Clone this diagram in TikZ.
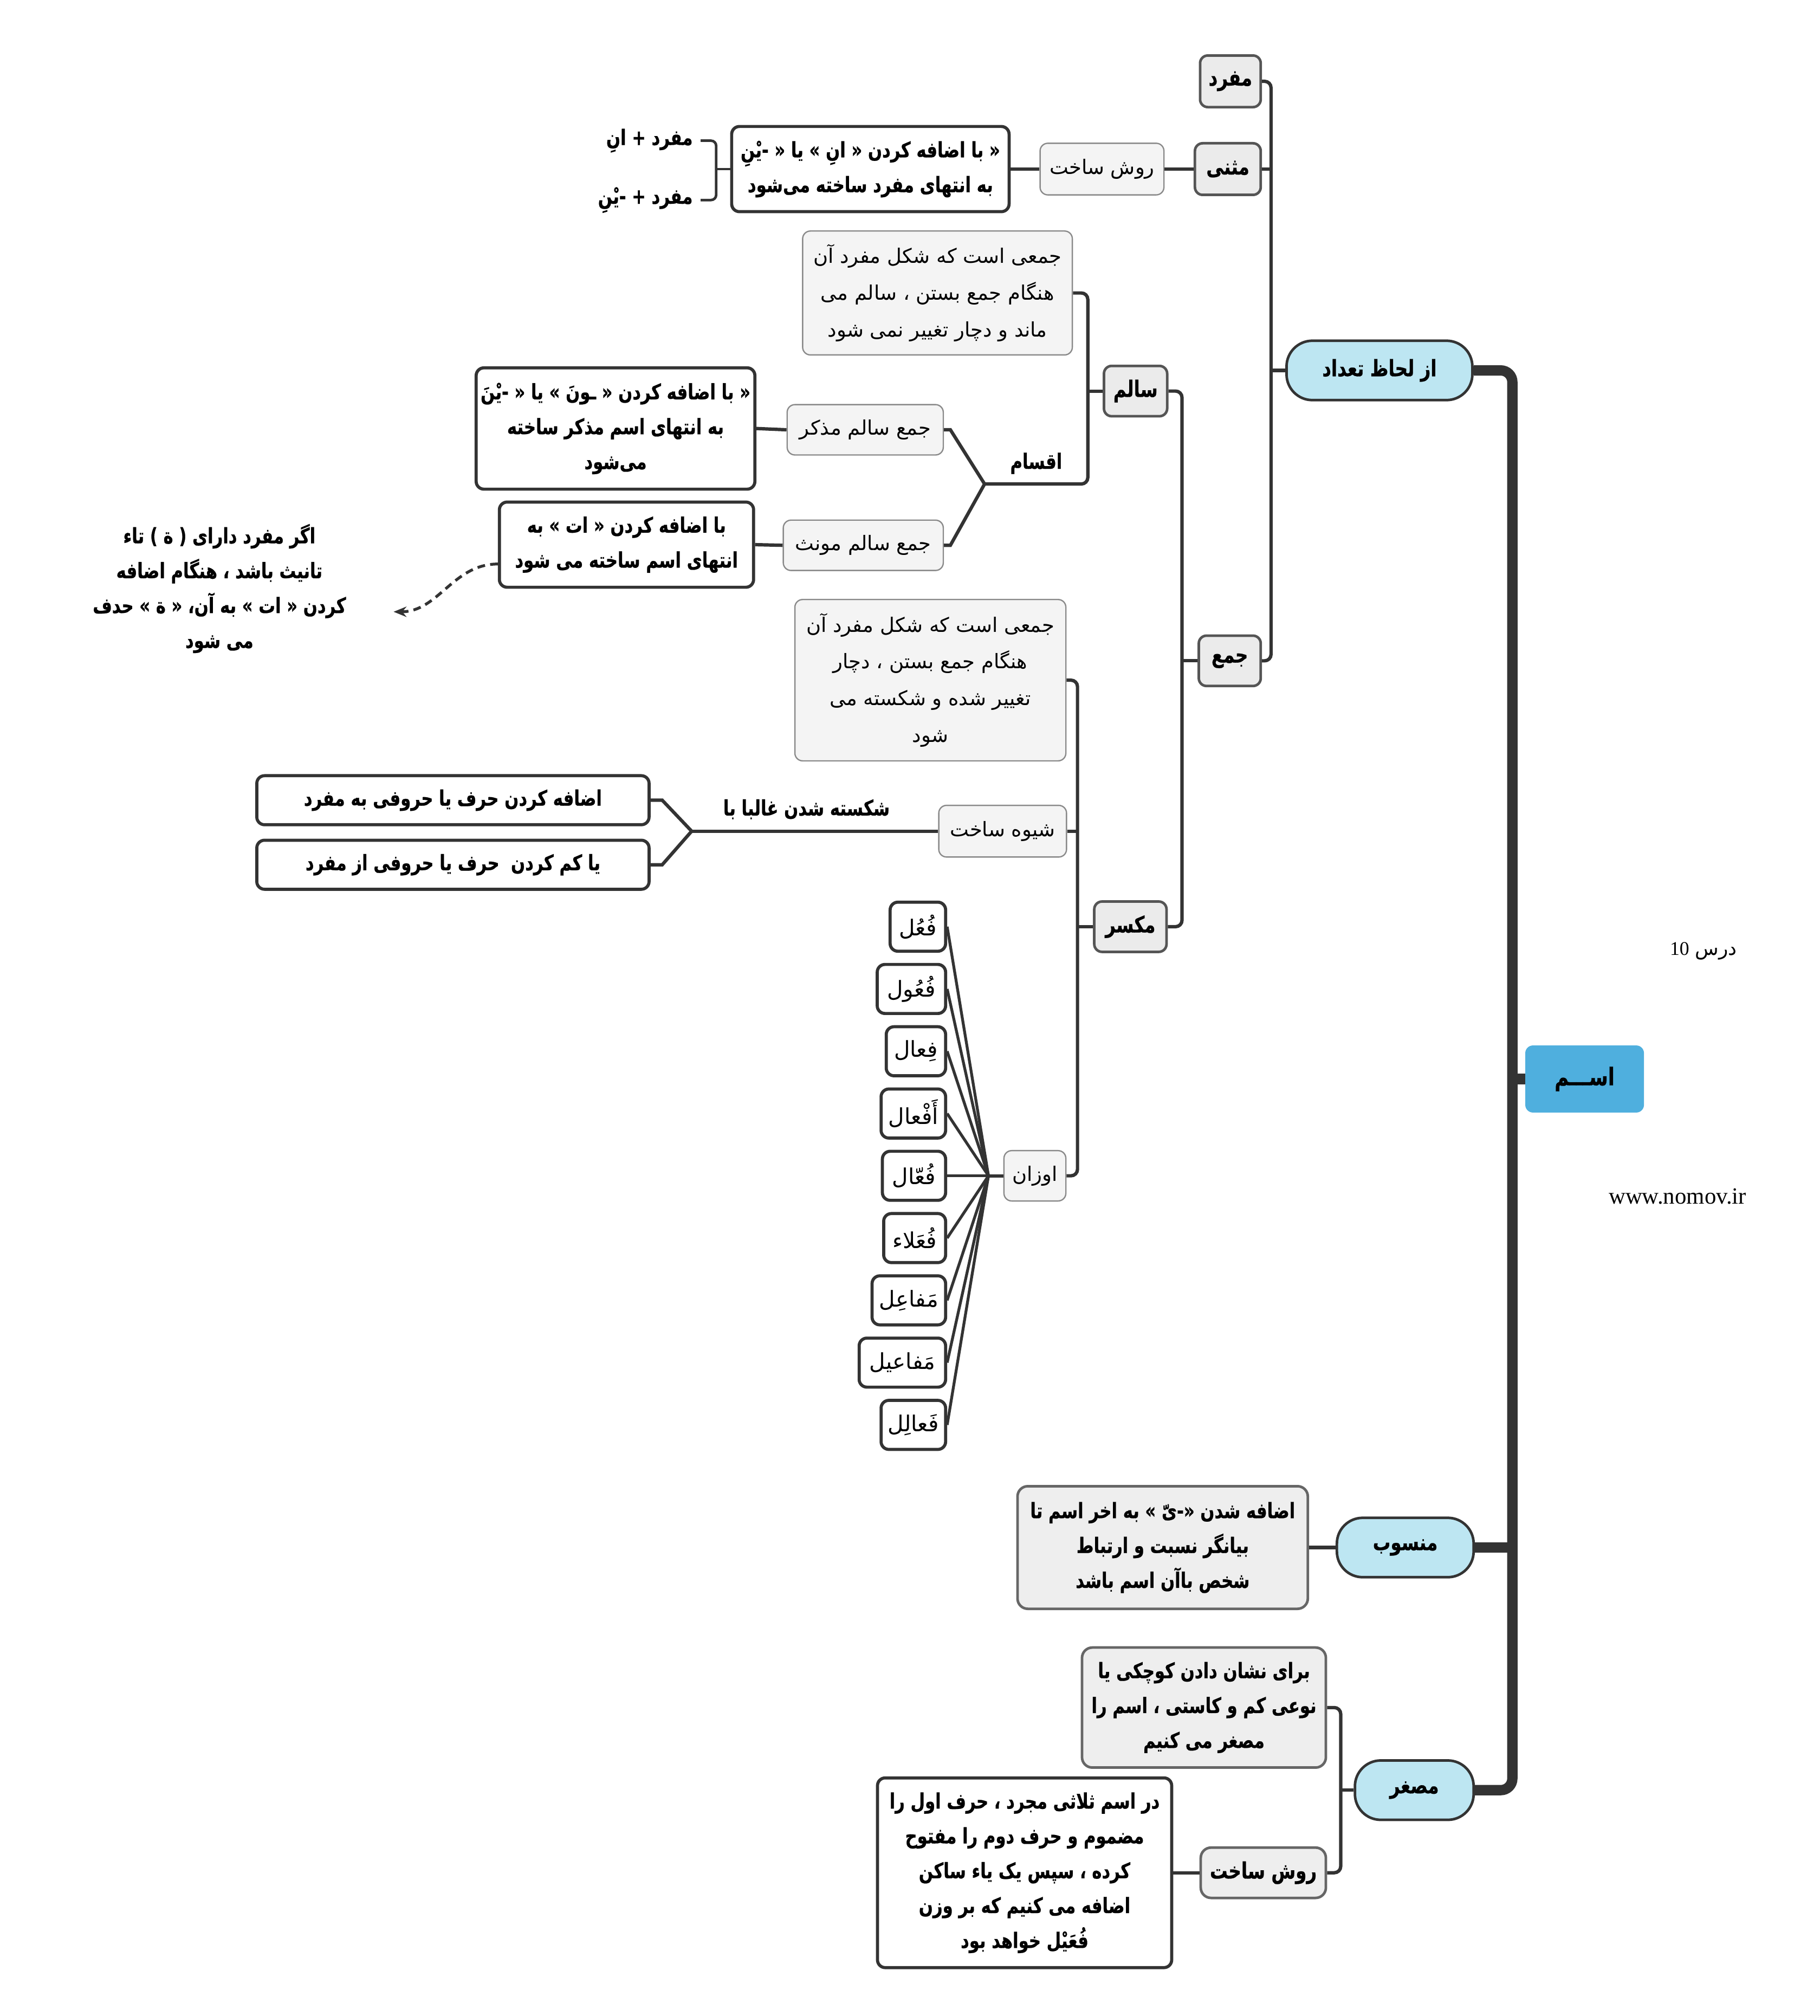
\documentclass[tikz,border=0pt]{standalone}
\usepackage{fontspec}
\usetikzlibrary{arrows.meta}
\TeXXeTstate=1
\newfontfamily\fa[Script=Arabic, BoldFeatures={FakeStretch=0.78, FakeBold=0.6}]{DejaVu Sans}
\newfontfamily\lat{Liberation Serif}
\newcommand{\myR}[1]{\beginR #1\endR}
\definecolor{cline}{HTML}{333333}
\definecolor{capfill}{HTML}{BDE6F2}
\definecolor{gfill}{HTML}{EBEBEB}
\definecolor{gdraw}{HTML}{555555}
\definecolor{lfill}{HTML}{F4F4F4}
\definecolor{ldraw}{HTML}{8A8A8A}
\definecolor{dfill}{HTML}{EEEEEE}
\definecolor{ddraw}{HTML}{666666}
\definecolor{rootblue}{HTML}{4FAFDE}
\tikzset{
 conn/.style={draw=cline, line width=2.6pt, rounded corners=5pt},
 wconn/.style={draw=cline, line width=2.2pt},
 trunkline/.style={draw=cline, line width=8pt, rounded corners=9pt},
 nbase/.style={inner sep=0pt, align=center, text=black},
 capsule/.style={nbase, fill=capfill, draw=cline, line width=2pt, rounded corners=20pt, font=\fa\bfseries\fontsize{17.5}{20}\selectfont},
 gbold/.style={nbase, fill=gfill, draw=gdraw, line width=2pt, rounded corners=6pt, font=\fa\bfseries\fontsize{17.5}{20}\selectfont},
 light/.style={nbase, fill=lfill, draw=ldraw, line width=1pt, rounded corners=6pt, font=\fa\fontsize{15.5}{28.5}\selectfont},
 gdesc/.style={nbase, fill=dfill, draw=ddraw, line width=2pt, rounded corners=8pt, font=\fa\bfseries\fontsize{16.5}{27}\selectfont},
 wbox/.style={nbase, fill=white, draw=cline, line width=2.4pt, rounded corners=6pt, font=\fa\bfseries\fontsize{16.5}{27}\selectfont},
 wt/.style={nbase, fill=white, draw=cline, line width=2.4pt, rounded corners=6pt, font=\fa\fontsize{17}{20}\selectfont, minimum height=38pt, anchor=east},
 plain/.style={nbase, font=\fa\bfseries\fontsize{16.5}{27}\selectfont},
}
\begin{document}
\begin{tikzpicture}[x=1pt, y=-1pt]
\useasboundingbox (0,0) rectangle (1410,1562);
\fill[white] (0,0) rectangle (1410,1562);

% ---------- nodes ----------
\node[nbase, fill=rootblue, rounded corners=6pt, minimum width=92pt, minimum height=52pt, font=\fa\bfseries\fontsize{19}{20}\selectfont] (root) at (1228,836) {\myR{اســـم}};
\node[nbase, font=\fontsize{15}{18}\selectfont] (dars) at (1320,737) {\myR{{\fa درس} \beginL{\lat 10}\endL}};
\node[nbase, font=\lat\fontsize{18}{20}\selectfont] (www) at (1300,927) {www.nomov.ir};

\node[capsule, minimum width=144pt, minimum height=46pt] (tedad) at (1069,287) {\myR{از لحاظ تعداد}};
\node[capsule, minimum width=106pt, minimum height=46pt] (mansub) at (1089,1199) {\myR{منسوب}};
\node[capsule, minimum width=92pt, minimum height=46pt] (mosaghar) at (1096,1387) {\myR{مصغر}};

\node[gbold, minimum width=47pt, minimum height=40pt] (mofrad) at (953.5,63) {\myR{مفرد}};
\node[gbold, minimum width=51pt, minimum height=40pt] (mosanna) at (951.5,131) {\myR{مثنی}};
\node[gbold, minimum width=48pt, minimum height=39pt] (jam) at (953,512) {\myR{جمع}};
\node[gbold, minimum width=49pt, minimum height=39pt] (salem) at (880,303) {\myR{سالم}};
\node[gbold, minimum width=56pt, minimum height=39pt] (mokassar) at (876,718) {\myR{مکسر}};

\node[light, minimum width=96pt, minimum height=40pt] (ravesh1) at (854,131) {\myR{روش ساخت}};
\node[wbox, minimum width=215pt, minimum height=66pt] (box1) at (674.5,131) {\myR{« با اضافه کردن « انِ » یا « -یْنِ}\\\myR{به انتهای مفرد ساخته می‌شود}};
\node[plain, anchor=east] (lab1) at (537,109) {\myR{مفرد + انِ}};
\node[plain, anchor=east] (lab2) at (537,155) {\myR{مفرد + -یْنِ}};

\node[light, minimum width=209pt, minimum height=96pt] (salemdesc) at (726.5,227) {\myR{جمعی است که شکل مفرد آن}\\\myR{هنگام جمع بستن ، سالم می}\\\myR{ماند و دچار تغییر نمی شود}};
\node[plain] (aqsam) at (803,359) {\myR{اقسام}};
\node[light, minimum width=121pt, minimum height=39pt] (mozakkar) at (670.5,333) {\myR{جمع سالم مذکر}};
\node[wbox, minimum width=216pt, minimum height=94pt] (mozakkardef) at (477,332) {\myR{« با اضافه کردن « ـونَ » یا « -یْنَ}\\\myR{به انتهای اسم مذکر ساخته}\\\myR{می‌شود}};
\node[light, minimum width=124pt, minimum height=39pt] (moannas) at (669,422.5) {\myR{جمع سالم مونث}};
\node[wbox, minimum width=197pt, minimum height=66pt] (moannasdef) at (485.5,422) {\myR{با اضافه کردن « ات » به}\\\myR{انتهای اسم ساخته می شود}};
\node[plain] (note) at (170,456) {\myR{اگر مفرد دارای ( ة ) تاء}\\\myR{تانیث باشد ، هنگام اضافه}\\\myR{کردن « ات » به آن، « ة » حدف}\\\myR{می شود}};
\coordinate (notetip) at (305,474);

\node[light, minimum width=210pt, minimum height=125pt] (mokdesc) at (721,527) {\myR{جمعی است که شکل مفرد آن}\\\myR{هنگام جمع بستن ، دچار}\\\myR{تغییر شده و شکسته می}\\\myR{شود}};
\node[light, minimum width=99pt, minimum height=40pt] (shive) at (777,644) {\myR{شیوه ساخت}};
\node[plain] (shekaste) at (625,627) {\myR{شکسته شدن غالبا با}};
\node[wbox, minimum width=304pt, minimum height=38pt] (add) at (351,620) {\myR{اضافه کردن حرف یا حروفی به مفرد}};
\node[wbox, minimum width=304pt, minimum height=38pt] (kam) at (351,670) {\myR{یا کم کردن \ حرف یا حروفی از مفرد}};
\node[light, minimum width=48pt, minimum height=39pt] (owzan) at (802,911) {\myR{اوزان}};

\node[wt, minimum width=43pt] (w1) at (734,718) {\myR{فُعُل}};
\node[wt, minimum width=53pt] (w2) at (734,766.25) {\myR{فُعُول}};
\node[wt, minimum width=46pt] (w3) at (734,814.5) {\myR{فِعال}};
\node[wt, minimum width=50pt] (w4) at (734,862.75) {\myR{أَفْعال}};
\node[wt, minimum width=49pt] (w5) at (734,911) {\myR{فُعّال}};
\node[wt, minimum width=48pt] (w6) at (734,959.25) {\myR{فُعَلاء}};
\node[wt, minimum width=57pt] (w7) at (734,1007.5) {\myR{مَفاعِل}};
\node[wt, minimum width=67pt] (w8) at (734,1055.75) {\myR{مَفاعیل}};
\node[wt, minimum width=50pt] (w9) at (734,1104) {\myR{فَعالِل}};

\node[gdesc, minimum width=225pt, minimum height=95pt] (mansubdesc) at (901,1199) {\myR{اضافه شدن «-یّ » به اخر اسم تا}\\\myR{بیانگر نسبت و ارتباط}\\\myR{شخص باآن اسم باشد}};
\node[gdesc, minimum width=189pt, minimum height=93pt] (mosdesc) at (933,1323) {\myR{برای نشان دادن کوچکی یا}\\\myR{نوعی کم و کاستی ، اسم را}\\\myR{مصغر می کنیم}};
\node[gdesc, minimum width=97pt, minimum height=39pt, font=\fa\bfseries\fontsize{17.5}{20}\selectfont] (ravesh2) at (979,1451) {\myR{روش ساخت}};
\node[wbox, minimum width=228pt, minimum height=147pt] (mosdef) at (794,1451) {\myR{در اسم ثلاثی مجرد ، حرف اول را}\\\myR{مضموم و حرف دوم را مفتوح}\\\myR{کرده ، سپس یک یاء ساکن}\\\myR{اضافه می کنیم که بر وزن}\\\myR{فُعَیْل خواهد بود}};

% ---------- connectors ----------
\coordinate (tk) at (1172,287);
\draw[trunkline] (tedad.east) -- (tk) |- (mosaghar.east);
\draw[trunkline, rounded corners=0pt] (mansub.east) -- (mansub.east -| tk);
\draw[trunkline, rounded corners=0pt] (root.west) -- (root.west -| tk);

\coordinate (r1) at (985,287);
\draw[conn] (mofrad.east) -- (mofrad.east -| r1) |- (jam.east);
\draw[conn] (mosanna.east) -- (mosanna.east -| r1);
\draw[conn] (tedad.west) -- (tedad.west -| r1);
\draw[conn] (mosanna.west) -- (ravesh1.east);
\draw[conn] (ravesh1.west) -- (box1.east);

\coordinate (br) at (555,131);
\draw[conn, line width=2pt, rounded corners=4pt] (box1.west) -- (br);
\draw[conn, line width=2pt, rounded corners=4pt] ([xshift=6pt]lab1.east) -| (br) |- ([xshift=6pt]lab2.east);

\coordinate (r2) at (916,512);
\draw[conn] (salem.east) -- (salem.east -| r2) |- (mokassar.east);
\draw[conn] (jam.west) -- (jam.west -| r2);

\coordinate (r3) at (843,303);
\coordinate (aqfork) at (763,375);
\draw[conn] (salemdesc.east) -- (salemdesc.east -| r3) |- (aqfork);
\draw[conn] (salem.west) -- (salem.west -| r3);
\draw[conn, rounded corners=0pt] (aqfork) -- ([xshift=5pt]mozakkar.east) -- (mozakkar.east);
\draw[conn, rounded corners=0pt] (aqfork) -- ([xshift=5pt]moannas.east) -- (moannas.east);
\draw[conn] (mozakkar.west) -- (mozakkardef.east);
\draw[conn] (moannas.west) -- (moannasdef.east);
\draw[draw=cline, line width=2.2pt, dash pattern=on 6pt off 4pt, -{Stealth[length=10pt,width=8pt]}] ([yshift=-15pt]moannasdef.west) to[out=180, in=0] (notetip);

\coordinate (r4) at (835,718);
\draw[conn] (mokdesc.east) -- (mokdesc.east -| r4) |- (owzan.east);
\draw[conn] (mokassar.west) -- (mokassar.west -| r4);
\draw[conn] (shive.east) -- (shive.east -| r4);

\coordinate (sf) at (536,644);
\draw[conn] (shive.west) -- (sf);
\draw[conn, rounded corners=0pt] (sf) -- ([xshift=9pt]add.east) -- (add.east);
\draw[conn, rounded corners=0pt] (sf) -- ([xshift=9pt]kam.east) -- (kam.east);

\coordinate (of) at (766,911);
\draw[conn] (owzan.west) -- (of);
\foreach \w in {w1,w2,w3,w4,w5,w6,w7,w8,w9} \draw[wconn] (of) -- (\w.east);

\draw[conn] (mansub.west) -- (mansubdesc.east);

\coordinate (r5) at (1039,1387);
\draw[conn] (mosdesc.east) -- (mosdesc.east -| r5) |- (ravesh2.east);
\draw[conn] (mosaghar.west) -- (mosaghar.west -| r5);
\draw[conn] (ravesh2.west) -- (mosdef.east);
\end{tikzpicture}
\end{document}
